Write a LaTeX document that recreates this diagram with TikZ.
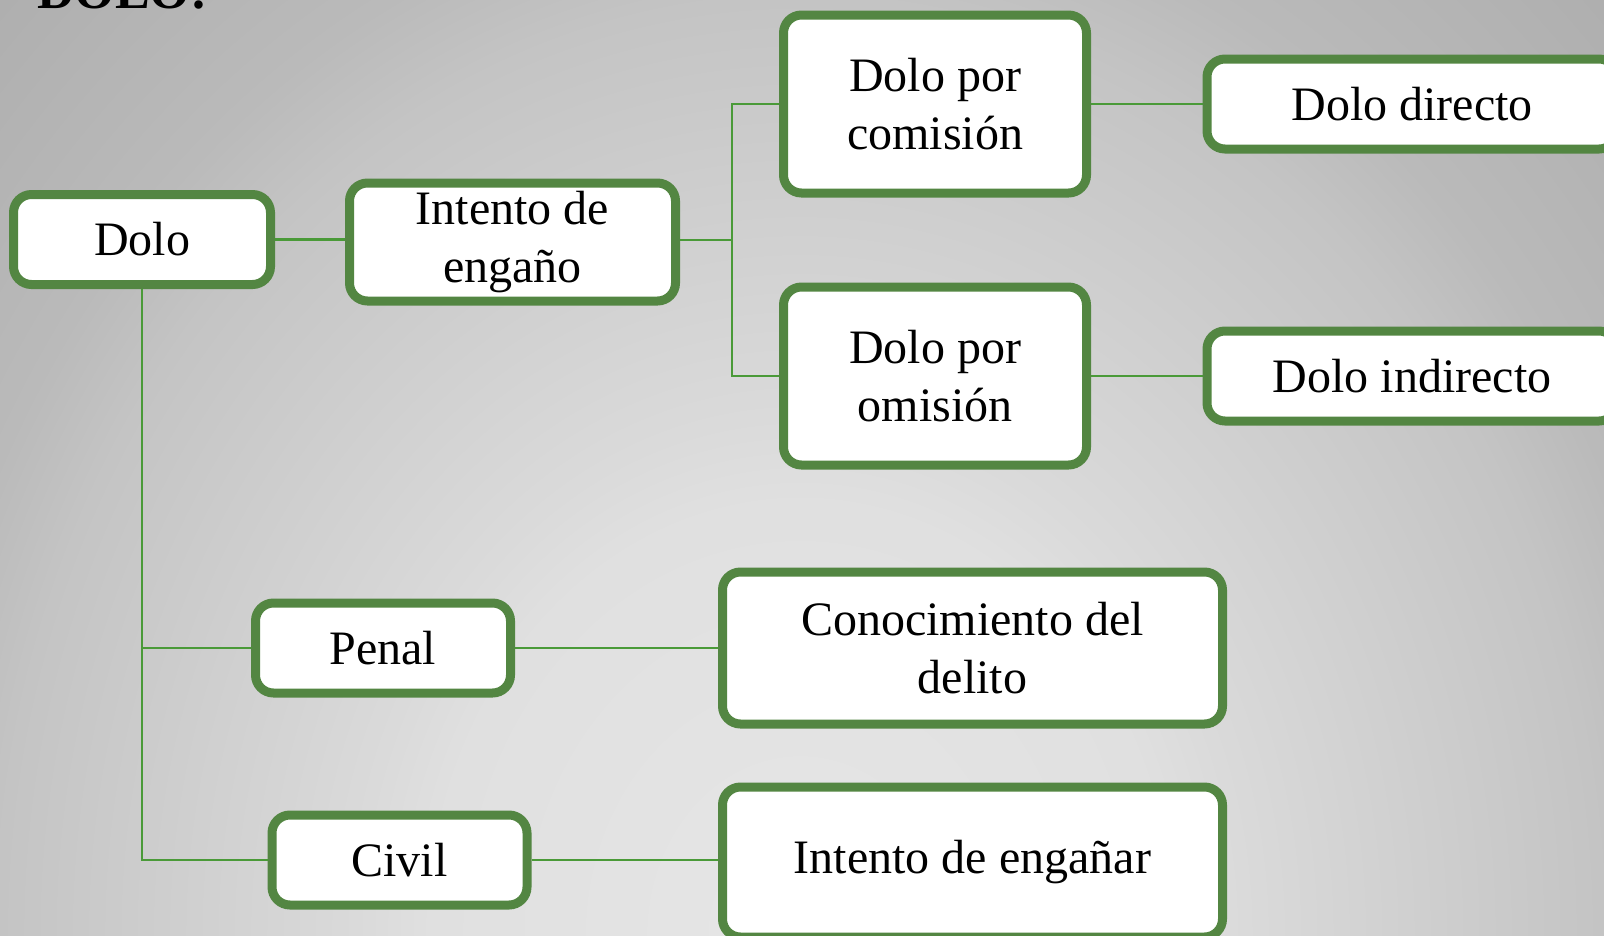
\documentclass[tikz,border=0pt]{standalone}
\usepackage{fontspec}
\setmainfont{Liberation Serif}
\definecolor{bgA}{HTML}{E6E6E6}
\definecolor{bgB}{HTML}{E0E0E0}
\definecolor{bgD}{HTML}{DADADA}
\definecolor{bgM}{HTML}{C4C4C4}
\definecolor{bgN}{HTML}{BABABA}
\definecolor{bgC}{HTML}{AEAEAE}
\definecolor{boxgreen}{HTML}{538642}
\definecolor{linegreen}{HTML}{4A9A38}
\pgfdeclareradialshading{bgshade}{\pgfpoint{0bp}{0bp}}{color(0bp)=(bgA); color(8bp)=(bgB); color(9.65bp)=(bgD); color(17.4bp)=(bgM); color(19.5bp)=(bgN); color(25bp)=(bgC); color(50bp)=(bgC)}
\begin{document}
\begin{tikzpicture}[x=1pt,y=-1pt,
  box/.style={draw=boxgreen, line width=9pt, rounded corners=18pt, fill=white,
    align=center, inner sep=0pt, font=\fontsize{48}{57.5}\selectfont},
  conn/.style={draw=linegreen, line width=2.2pt}]
\useasboundingbox (0,0) rectangle (1604,935);
\begin{scope}
  \clip (0,0) rectangle (1604,935);
  \fill[bgC] (0,0) rectangle (1604,935);
  \shade[shading=bgshade] (800,935) ellipse (1150pt and 1345pt);
\end{scope}

\node[anchor=base west, inner sep=0pt, font=\fontsize{52}{60}\selectfont\bfseries] (title) at (37,8) {DOLO:};

\node[box, minimum width=257pt, minimum height=90pt] (dolo) at (142,239.5) {Dolo};
\node[box, minimum width=326pt, minimum height=118pt] (intento) at (512.5,242) {Intento de\\engaño};
\node[box, minimum width=303pt, minimum height=178pt] (comision) at (935,104) {Dolo por\\comisión};
\node[box, minimum width=303pt, minimum height=178pt] (omision) at (935,376) {Dolo por\\omisión};
\node[box, minimum width=410pt, minimum height=90pt] (directo) at (1412,104) {Dolo directo};
\node[box, minimum width=410pt, minimum height=90pt] (indirecto) at (1412,376) {Dolo indirecto};
\node[box, minimum width=255pt, minimum height=90pt] (penal) at (383,648) {Penal};
\node[box, minimum width=500pt, minimum height=152pt] (conoc) at (972.5,648) {Conocimiento del\\delito};
\node[box, minimum width=255pt, minimum height=90pt] (civil) at (399.5,860) {Civil};
\node[box, minimum width=500pt, minimum height=150pt] (enganar) at (972.5,862) {Intento de engañar};

\coordinate (j) at (732,240);
\draw[conn] (dolo.east) -- (intento.west |- dolo.east);
\draw[conn] (intento.east |- j) -- (j);
\draw[conn] (comision.west) -| (j) |- (omision.west);
\draw[conn] (comision.east) -- (directo.west |- comision.east);
\draw[conn] (omision.east) -- (indirecto.west |- omision.east);
\draw[conn] (dolo.south) -- (dolo.south |- civil.west) -- (civil.west);
\draw[conn] (dolo.south |- penal.west) -- (penal.west);
\draw[conn] (penal.east) -- (conoc.west |- penal.east);
\draw[conn] (civil.east) -- (enganar.west |- civil.east);
\end{tikzpicture}
\end{document}
